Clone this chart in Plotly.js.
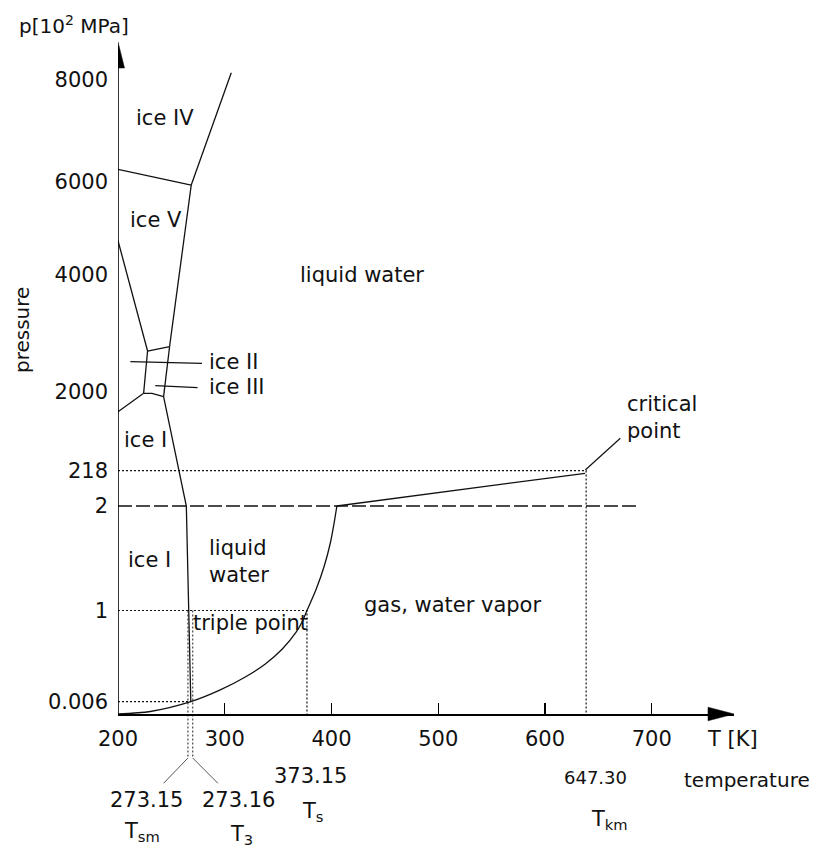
<!DOCTYPE html>
<html><head><meta charset="utf-8">
<script src="https://cdn.plot.ly/plotly-3.0.1.min.js"></script>
<style>html,body{margin:0;padding:0;background:#fff}#chart{width:816px;height:851px}</style>
</head><body><div id="chart"></div>
<script>
// ---- schematic (piecewise) pressure scale of the diagram ----
const pressureKnots = [0, 0.006, 1, 2, 218, 2000, 4000, 6000, 8000];
const axisKnots     = [0, 12.3, 103.5, 208, 243.3, 322.5, 439, 532, 634];
const pressureTickText = ['0.006', '1', '2', '218', '2000', '4000', '6000', '8000'];
const tempTicks = [200, 300, 400, 500, 600, 700];

// ---- phase boundaries: temperature [K] / pressure [10^2 MPa] ----
const iceIV_liquid_T = [306.1, 268.6];   const iceIV_liquid_p = [8143, 5935];
const iceIV_iceV_T   = [200, 268.6];     const iceIV_iceV_p   = [6249, 5935];
const iceV_liquid_T  = [268.6, 248.3];   const iceV_liquid_p  = [5935, 2769];
const iceIII_liquid_T = [248.3, 242.7];  const iceIII_liquid_p = [2769, 1883];
const melting_T = [242.7, 264.0, 268.2]; const melting_p = [1883, 2, 0.006];
const iceV_iceII_T = [200, 227.7];       const iceV_iceII_p = [4738, 2695];
const iceII_iceIIItop_T = [227.7, 248.3]; const iceII_iceIIItop_p = [2695, 2769];
const iceII_iceIII_T = [227.7, 224];     const iceII_iceIII_p = [2695, 1960];
const iceIII_iceI_T = [224, 231.8, 242.7]; const iceIII_iceI_p = [1960, 1960, 1883];
const iceI_iceII_T = [200, 224];         const iceI_iceII_p = [1546, 1960];
const vapour_T = [200, 230.3, 268.2, 295.8, 319.2, 338.0, 353.9, 367.0, 372.6, 377.0, 385.7, 393.2, 398.9, 402.6, 405.0];
const vapour_p = [0, 0.00122, 0.006, 0.134, 0.275, 0.417, 0.580, 0.766, 0.880, 1.0, 1.206, 1.426, 1.646, 1.847, 2];
const critical_T = [405.0, 637.5];       const critical_p = [2, 202];

// ---- reference lines ----
const refDash_T = [200, 688.4];          const refDash_p = [2, 2];
const crit218_T = [200, 638.5, 638.5];   const crit218_p = [218, 218, 0];
const boil1_T = [200, 377, 377];         const boil1_p = [1, 1, 0];
const triple006_T = [200, 268.2];        const triple006_p = [0.006, 0.006];
const tripleMarks_T = [265.5, 270.0];    const tripleMarks_p = [1, 1];
const belowAxisEnd = -44;                // axis units below the T axis
const leaderFoot = -69.3;
const leaderFoot_T = [242.7, 293.6];

// pointer lines for labels
const ptrIceII_T = [211.6, 278.7];  const ptrIceII_p = [2512, 2484];
const ptrIceIII_T = [234.9, 274.5]; const ptrIceIII_p = [2100, 2065];
const ptrCrit_T = [637.7, 670.5];   const ptrCrit_p = [234, 947];

function toAxis(p) {
  if (p <= pressureKnots[0]) return axisKnots[0];
  for (let i = 1; i < pressureKnots.length; i++) {
    if (p <= pressureKnots[i]) {
      const f = (p - pressureKnots[i-1]) / (pressureKnots[i] - pressureKnots[i-1]);
      return axisKnots[i-1] + f * (axisKnots[i] - axisKnots[i-1]);
    }
  }
  const n = pressureKnots.length - 1;
  const s = (axisKnots[n] - axisKnots[n-1]) / (pressureKnots[n] - pressureKnots[n-1]);
  return axisKnots[n] + (p - pressureKnots[n]) * s;
}

const FONT = 'DejaVu Sans, Liberation Sans, Arial, sans-serif';
const traces = [];
function line(T, p, opts) {
  opts = opts || {};
  traces.push({
    type: 'scatter', mode: 'lines', x: T, y: p.map(toAxis),
    line: {color: opts.color || '#111', width: opts.width || 1.3, dash: opts.dash || 'solid',
           shape: opts.shape || 'linear', smoothing: opts.smoothing || 0},
    hoverinfo: 'skip', showlegend: false
  });
}
function rawLine(T, y, opts) {
  opts = opts || {};
  traces.push({
    type: 'scatter', mode: 'lines', x: T, y: y,
    line: {color: opts.color || '#111', width: opts.width || 1.2, dash: opts.dash || 'solid'},
    hoverinfo: 'skip', showlegend: false
  });
}
const DOT = '2px,2px';
// reference lines
line(refDash_T, refDash_p, {dash: '14px,4px', width: 1.3});
line(crit218_T, crit218_p, {dash: DOT, width: 1.2});
line(boil1_T, boil1_p, {dash: DOT, width: 1.2});
line(triple006_T, triple006_p, {dash: DOT, width: 1.2});
tripleMarks_T.forEach((t, i) => {
  rawLine([t, t], [toAxis(tripleMarks_p[i]), belowAxisEnd], {dash: DOT, width: 1.1, color: '#333'});
  rawLine([t, leaderFoot_T[i]], [belowAxisEnd, leaderFoot], {width: 1, color: '#555'});
});
// boundaries
line(iceIV_liquid_T, iceIV_liquid_p);
line(iceIV_iceV_T, iceIV_iceV_p);
line(iceV_liquid_T, iceV_liquid_p);
line(iceIII_liquid_T, iceIII_liquid_p);
line(melting_T, melting_p);
line(iceV_iceII_T, iceV_iceII_p);
line(iceII_iceIIItop_T, iceII_iceIIItop_p);
line(iceII_iceIII_T, iceII_iceIII_p);
line(iceIII_iceI_T, iceIII_iceI_p);
line(iceI_iceII_T, iceI_iceII_p);
line(vapour_T, vapour_p, {shape: 'spline', smoothing: 0.8});
line(critical_T, critical_p);
line(ptrIceII_T, ptrIceII_p, {width: 1.2});
line(ptrIceIII_T, ptrIceIII_p, {width: 1.2});
line(ptrCrit_T, ptrCrit_p, {width: 1.2});

function ann(text, x, y, size, xanchor, extra) {
  return Object.assign({text: text, x: x, y: y, xref: 'x', yref: 'y', showarrow: false,
    xanchor: xanchor || 'center', yanchor: 'middle', align: 'left',
    font: {family: FONT, size: size || 21, color: '#111'}}, extra || {});
}
function pann(text, x, y, size, extra) {
  return Object.assign({text: text, x: x, y: y, xref: 'paper', yref: 'paper', showarrow: false,
    xanchor: 'center', yanchor: 'middle', align: 'center',
    font: {family: FONT, size: size || 21, color: '#111'}}, extra || {});
}
const annotations = [
  ann('ice IV', 244.3, 596),
  ann('ice V', 235.7, 494),
  ann('liquid water', 428.7, 439),
  ann('ice I', 225.6, 274),
  ann('ice I', 229.3, 154),
  ann('liquid<br>water', 283.0, 152.5, 21, 'left'),
  ann('triple point', 268.5, 91, 21, 'left'),
  ann('gas, water vapor', 513, 109),
  ann('critical<br>point', 674.5, 296.5, 21, 'left'),
  ann('ice II', 283.6, 352.3, 21, 'left'),
  ann('ice III', 283.6, 327.3, 21, 'left'),
  ann('T [K]', 776, -25),
  ann('373.15', 380, -62),
  ann('647.30', 647, -63, 18),
  pann('temperature', 1.0219, 0.0119, 20),
  pann('273.15', 0.0455, -0.0146),
  pann('273.16', 0.1964, -0.0146),
  pann('T<sub>sm</sub>', 0.0385, -0.0570),
  pann('T<sub>3</sub>', 0.1997, -0.0609),
  pann('T<sub>s</sub>', 0.3157, -0.0305),
  pann('T<sub>km</sub>', 0.7971, -0.0411),
  pann('p[10<sup>2</sup> MPa]', -0.0722, 1.0119, 20),
  pann('pressure', -0.1558, 0.6079, 20, {textangle: -90})
];

const yMin = -75, yMax = 680, xMax = 777;
const shapes = [
  {type: 'line', xref: 'x', yref: 'y', x0: 200, x1: 200, y0: 0, y1: 660, line: {color: '#000', width: 1.6}},
  {type: 'path', xref: 'x', yref: 'y', xsizemode: 'pixel', ysizemode: 'pixel', xanchor: xMax, yanchor: 0,
   path: 'M0,0L-26,-6.8L-26,6.8Z', fillcolor: '#000', line: {color: '#000', width: 0.5}},
  {type: 'path', xref: 'x', yref: 'y', xsizemode: 'pixel', ysizemode: 'pixel', xanchor: 200, yanchor: 672,
   path: 'M0,0L-6.5,-26L6.5,-26Z', fillcolor: '#000', line: {color: '#000', width: 0.5}}
];

const layout = {
  width: 816, height: 851,
  margin: {l: 118, r: 82, t: 34, b: 62},
  paper_bgcolor: '#fff', plot_bgcolor: '#fff',
  showlegend: false, hovermode: false,
  xaxis: {range: [200, xMax], anchor: 'free', position: (0 - yMin) / (yMax - yMin), side: 'bottom',
          showgrid: false, zeroline: false, showline: true, linecolor: '#000', linewidth: 1.6,
          ticks: 'inside', ticklen: 11, tickwidth: 1.3, tickcolor: '#000',
          tickvals: tempTicks, ticktext: tempTicks.map(String), ticklabelstandoff: 5,
          tickfont: {family: FONT, size: 21, color: '#111'}},
  yaxis: {range: [yMin, yMax], showgrid: false, zeroline: false, showline: false, ticks: '',
          tickvals: pressureKnots.slice(1).map(toAxis), ticktext: pressureTickText,
          ticklabelstandoff: 9, tickfont: {family: FONT, size: 21, color: '#111'}},
  annotations: annotations,
  shapes: shapes
};
Plotly.newPlot('chart', traces, layout, {displayModeBar: false, staticPlot: true});
</script></body></html>
